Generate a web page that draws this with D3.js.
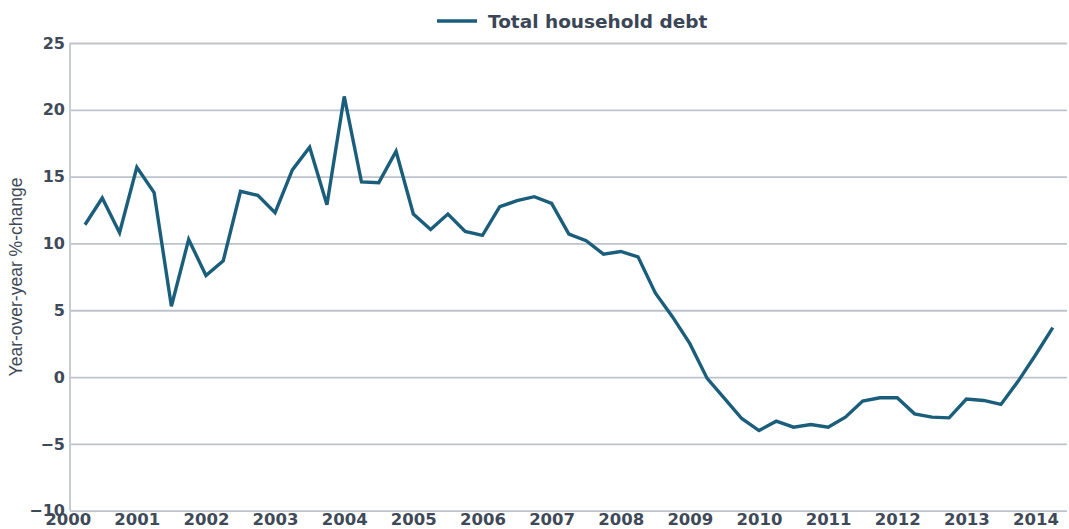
<!DOCTYPE html>
<html>
<head>
<meta charset="utf-8">
<script src="https://cdn.jsdelivr.net/npm/d3@7"></script>
<style>
  body { margin: 0; background: #fff; }
  .tick text { font-family: "DejaVu Sans", sans-serif; font-weight: bold; fill: #3f4a59; }
</style>
</head>
<body>
<div id="grafica"></div>
<script>
// Datos (variacion anual %, trimestral)
const years = d3.range(2000, 2015)
const quarters = d3.range(57).map(i => 2000.25 + i * 0.25)
const householdDebt = [
  11.4, 13.4, 10.8, 15.7, 13.8, 5.3, 10.3, 7.6, 8.7, 13.9, 13.6, 12.3,
  15.5, 17.2, 12.9, 21.0, 14.6, 14.55, 16.9, 12.2, 11.05, 12.2, 10.9, 10.6,
  12.75, 13.2, 13.5, 13.0, 10.7, 10.2, 9.2, 9.4, 9.0, 6.3, 4.5, 2.5,
  -0.1, -1.6, -3.1, -4.0, -3.3, -3.75, -3.55, -3.75, -3.0, -1.8, -1.55, -1.55,
  -2.75, -3.0, -3.05, -1.65, -1.75, -2.05, -0.3, 1.65, 3.7
]
const yTicks = [-10, -5, 0, 5, 10, 15, 20, 25]
const serie = "Total household debt"
const yTitulo = "Year-over-year %-change"

const anchoTotal = 1069
const altoTotal = 529

const svg = d3.select("#grafica").append("svg")
    .attr("width", anchoTotal)
    .attr("height", altoTotal)

// Escaladores
const x = d3.scaleLinear().domain([2000, 2014]).range([67.7, 1035.5])
const y = d3.scaleLinear().domain([-10, 25]).range([510.7, 43])

const dataDeuda = quarters.map((q, i) => ({ t: q, v: householdDebt[i] }))

// Rejilla y eje Y
const yAxisGroup = svg.append("g")
    .attr("transform", "translate(70,0)")
    .call(d3.axisLeft(y).tickValues(yTicks).tickSize(-997).tickPadding(5))

yAxisGroup.select(".domain").remove()
yAxisGroup.selectAll(".tick line")
    .attr("stroke", "#bcc3cc")
    .attr("stroke-width", 1.8)
yAxisGroup.selectAll(".tick text")
    .attr("font-size", 16)

svg.append("line")
    .attr("x1", 70).attr("x2", 70)
    .attr("y1", y(25)).attr("y2", y(-10))
    .attr("stroke", "#c5ccd4")
    .attr("stroke-width", 2)

// Eje X
const xAxisGroup = svg.append("g")
    .attr("transform", `translate(0, ${y(-10)})`)
    .call(d3.axisBottom(x).tickValues(years).tickFormat(d3.format("d")).tickSize(0).tickPadding(3))

xAxisGroup.select(".domain").remove()
xAxisGroup.selectAll(".tick text")
    .attr("font-size", 16.5)

// Titulo eje Y
svg.append("text")
    .attr("transform", `translate(22, ${277}) rotate(-90)`)
    .attr("text-anchor", "middle")
    .attr("font-family", "Liberation Sans, Arial, sans-serif")
    .attr("font-size", 17.5)
    .attr("fill", "#3f4a59")
    .text(yTitulo)

// Linea
const linea = d3.line()
    .x(d => x(d.t))
    .y(d => y(d.v))

svg.append("path")
    .datum(dataDeuda)
    .attr("fill", "none")
    .attr("stroke", "#1b5e7b")
    .attr("stroke-width", 3.4)
    .attr("stroke-linejoin", "miter")
    .attr("d", linea)

// Leyenda
const leyenda = svg.append("g")
leyenda.append("line")
    .attr("x1", 437).attr("x2", 477)
    .attr("y1", 21).attr("y2", 21)
    .attr("stroke", "#1b5e7b")
    .attr("stroke-width", 3.5)
leyenda.append("text")
    .attr("x", 488)
    .attr("y", 28)
    .attr("font-family", "DejaVu Sans, sans-serif")
    .attr("font-weight", "bold")
    .attr("font-size", 18.5)
    .attr("fill", "#3a4656")
    .text(serie)
</script>
</body>
</html>
